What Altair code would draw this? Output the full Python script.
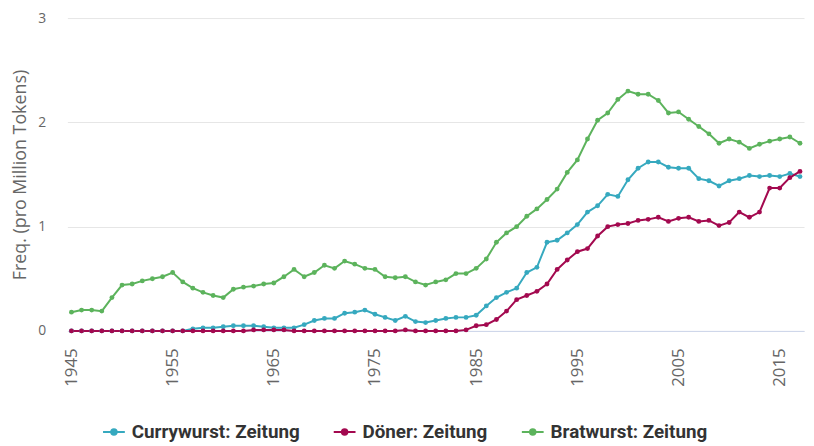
import altair as alt
import pandas as pd

years = list(range(1945, 2018))

series_names = ["Currywurst: Zeitung", "Döner: Zeitung", "Bratwurst: Zeitung"]
series_colors = ["#36a9bf", "#a3094f", "#5cb35c"]

currywurst = [
    0, 0, 0, 0, 0, 0, 0, 0, 0, 0, 0, 0,
    0.02, 0.03, 0.03, 0.04, 0.05, 0.05, 0.05, 0.04, 0.03, 0.03, 0.03, 0.06,
    0.10, 0.12, 0.12, 0.17, 0.18, 0.20, 0.16, 0.13, 0.10, 0.14, 0.09, 0.08,
    0.10, 0.12, 0.13, 0.13, 0.15, 0.24, 0.32, 0.37, 0.41, 0.56, 0.61, 0.85,
    0.87, 0.94, 1.02, 1.14, 1.20, 1.31, 1.29, 1.45, 1.56, 1.62, 1.62, 1.57,
    1.56, 1.56, 1.46, 1.44, 1.39, 1.44, 1.46, 1.49, 1.48, 1.49, 1.48, 1.51,
    1.48,
]

doener = [
    0, 0, 0, 0, 0, 0, 0, 0, 0, 0, 0, 0,
    0, 0, 0, 0, 0, 0, 0.01, 0.01, 0.01, 0.01, 0, 0,
    0, 0, 0, 0, 0, 0, 0, 0, 0, 0.01, 0, 0,
    0, 0, 0, 0.01, 0.05, 0.06, 0.11, 0.19, 0.30, 0.34, 0.38, 0.45,
    0.59, 0.68, 0.76, 0.79, 0.91, 1.00, 1.02, 1.03, 1.06, 1.07, 1.09, 1.05,
    1.08, 1.09, 1.05, 1.06, 1.01, 1.04, 1.14, 1.09, 1.14, 1.37, 1.37, 1.47,
    1.53,
]

bratwurst = [
    0.18, 0.20, 0.20, 0.19, 0.32, 0.44, 0.45, 0.48, 0.50, 0.52, 0.56, 0.47,
    0.41, 0.37, 0.34, 0.32, 0.40, 0.42, 0.43, 0.45, 0.46, 0.52, 0.59, 0.52,
    0.56, 0.63, 0.60, 0.67, 0.64, 0.60, 0.59, 0.52, 0.51, 0.52, 0.47, 0.44,
    0.47, 0.49, 0.55, 0.55, 0.60, 0.69, 0.85, 0.94, 1.00, 1.10, 1.17, 1.26,
    1.36, 1.52, 1.64, 1.84, 2.02, 2.09, 2.22, 2.30, 2.27, 2.27, 2.21, 2.09,
    2.10, 2.03, 1.96, 1.89, 1.80, 1.84, 1.81, 1.75, 1.79, 1.82, 1.84, 1.86,
    1.80,
]

x_ticks = [1945, 1955, 1965, 1975, 1985, 1995, 2005, 2015]
y_ticks = [0, 1, 2, 3]

rows = []
for name, vals in zip(series_names, [currywurst, doener, bratwurst]):
    for yr, v in zip(years, vals):
        rows.append({"Jahr": yr, "Freq": v, "Serie": name})
df = pd.DataFrame(rows)

legend_symbol = "M-1,0L1,0M-0.25,0A0.25,0.25,0,1,0,0.25,0A0.25,0.25,0,1,0,-0.25,0Z"

chart = (
    alt.Chart(df)
    .mark_line(strokeWidth=2, point=alt.OverlayMarkDef(filled=True, size=24, opacity=1))
    .encode(
        x=alt.X(
            "Jahr:Q",
            scale=alt.Scale(domain=[1944.6, 2017.4], nice=False, zero=False),
            axis=alt.Axis(
                values=x_ticks,
                format="d",
                title=None,
                labelAngle=270,
                labelFont="Open Sans",
                labelFontSize=17,
                labelColor="#666666",
                labelPadding=17,
                ticks=False,
                tickSize=0,
                grid=False,
                domainColor="#ccd6eb",
                domainWidth=1,
            ),
        ),
        y=alt.Y(
            "Freq:Q",
            scale=alt.Scale(domain=[0, 3], nice=False),
            axis=alt.Axis(
                values=y_ticks,
                format="d",
                title="Freq. (pro Million Tokens)",
                titleFont="Open Sans",
                titleFontSize=18,
                titleFontWeight="normal",
                titleColor="#666666",
                titlePadding=8,
                labelFont="Open Sans",
                labelFontSize=14,
                labelColor="#666666",
                labelPadding=22,
                ticks=False,
                tickSize=0,
                domain=False,
                grid=True,
                gridColor="#e6e6e6",
                gridWidth=1,
            ),
        ),
        color=alt.Color(
            "Serie:N",
            sort=series_names,
            scale=alt.Scale(domain=series_names, range=series_colors),
            legend=alt.Legend(
                title=None,
                orient="none",
                direction="horizontal",
                legendX=35,
                legendY=406,
                labelFont="Roboto",
                labelFontSize=19,
                labelFontWeight="bold",
                labelColor="#333333",
                labelLimit=400,
                labelOffset=6,
                symbolType=legend_symbol,
                symbolSize=484,
                symbolStrokeWidth=2,
                columnPadding=30,
            ),
        ),
    )
    .properties(
        width=744,
        height=316,
        autosize=alt.AutoSizeParams(type="none"),
        padding={"left": 60, "top": 8, "right": 2, "bottom": 110},
    )
    .configure_view(stroke=None)
)

chart.save("out.html", embed_options={"renderer": "svg", "actions": False})
